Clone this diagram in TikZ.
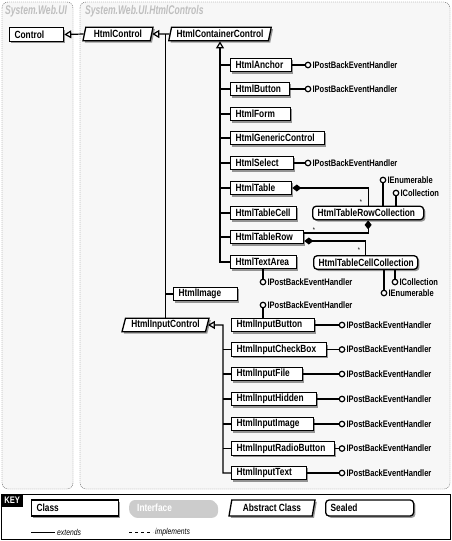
\documentclass[tikz,border=0pt]{standalone}
\usepackage{fontspec}
\setmainfont{Liberation Sans}[FakeStretch=0.8]
\newfontfamily\titulofont{Liberation Sans}[FakeStretch=0.68]
\usetikzlibrary{arrows.meta,shapes.geometric,shadows,positioning}
\tikzset{
  base/.style={draw,line width=1.3pt,fill=white,inner xsep=5pt,inner ysep=0pt,
    minimum height=13.5pt,font=\fontsize{10.4}{11}\selectfont\bfseries,
    drop shadow={shadow xshift=1.8pt,shadow yshift=-1.8pt,fill=black,opacity=.4}},
  clase/.style={base,align=left,text width=#1},
  sellada/.style={clase=#1,rounded corners=3.5pt},
  abstracta/.style={base,trapezium,trapezium left angle=70,trapezium right angle=110,
    trapezium stretches body=true,minimum width=#1},
  interfaz/.style={fill=gray!40,text=white,rounded corners=6pt,inner xsep=8pt,
    align=left,text width=#1,minimum height=16pt,font=\fontsize{10.4}{11}\selectfont\bfseries,
    drop shadow={shadow xshift=1.8pt,shadow yshift=-1.8pt,fill=black,opacity=.2}},
  paquete/.style={draw=gray!60!black,dash pattern=on 1pt off 1pt,fill=gray!6,rounded corners=6pt},
  titulo/.style={anchor=west,text=gray!50,inner sep=0pt,font=\titulofont\fontsize{12.6}{13}\selectfont\bfseries\itshape},
  piru/.style={circle,draw,line width=1.2pt,fill=white,inner sep=0pt,minimum size=5.5pt},
  etiq/.style={inner sep=1pt,font=\fontsize{9.4}{10}\selectfont\bfseries},
  estrella/.style={inner sep=0pt,font=\fontsize{7}{8}\selectfont},
  leyenda/.style={inner sep=2pt,font=\fontsize{8.5}{9}\selectfont\itshape},
  linea/.style={line width=1.2pt},
  hereda/.style={linea,-{Triangle[open,length=7pt,width=8pt]}},
  agrega/.style={linea,{Diamond[length=9pt,width=7pt]}-}
}
\begin{document}
\begin{tikzpicture}[x=1pt,y=-1pt]
\useasboundingbox (0,0) rectangle (452,541);
% paquetes
\draw[paquete] (2,2) rectangle (73,489);
\draw[paquete] (80,2) rectangle (450,489);
\node[titulo] (t1) at (5,11) {System.Web.UI};
\node[titulo] (t2) at (85,11) {System.Web.UI.HtmlControls};
% clases base
\node[clase=44pt,anchor=west] (control) at (9,34.5) {Control};
\node[abstracta=70pt] (hc) at (118,34) {HtmlControl};
\node[abstracta=96pt] (hcc) at (220,34) {HtmlContainerControl};
\draw[hereda] (hc.west) -- (control.east);
\draw[hereda] (hcc.west) -- (hc.east);
% hijos de HtmlContainerControl
\node[clase=51pt,anchor=west] (anchor) at (230,65) {HtmlAnchor};
\node[clase=49pt,anchor=west] (button) at (230,89) {HtmlButton};
\node[clase=50pt,anchor=west] (form) at (230,114) {HtmlForm};
\node[clase=84pt,anchor=west] (generic) at (230,138) {HtmlGenericControl};
\node[clase=53pt,anchor=west] (select) at (230,163) {HtmlSelect};
\node[clase=51pt,anchor=west] (table) at (230,188) {HtmlTable};
\node[clase=56pt,anchor=west] (tcell) at (230,213) {HtmlTableCell};
\node[clase=63pt,anchor=west] (trow) at (230,237) {HtmlTableRow};
\node[clase=56pt,anchor=west] (tarea) at (230,262) {HtmlTextArea};
\draw[hereda] (tarea.west) -| (hcc.south);
\draw[linea] (anchor.west) -- (anchor.west -| hcc.south);
\draw[linea] (button.west) -- (button.west -| hcc.south);
\draw[linea] (form.west) -- (form.west -| hcc.south);
\draw[linea] (generic.west) -- (generic.west -| hcc.south);
\draw[linea] (select.west) -- (select.west -| hcc.south);
\draw[linea] (table.west) -- (table.west -| hcc.south);
\draw[linea] (tcell.west) -- (tcell.west -| hcc.south);
\draw[linea] (trow.west) -- (trow.west -| hcc.south);
% interfaces
\node[piru] (c1) at (308,65) {};
\node[etiq,right=0pt of c1] (i1) {IPostBackEventHandler};
\draw[linea] (anchor.east) -- (c1);
\node[piru] (c2) at (308,89) {};
\node[etiq,right=0pt of c2] (i2) {IPostBackEventHandler};
\draw[linea] (button.east) -- (c2);
\node[piru] (c3) at (308,163) {};
\node[etiq,right=0pt of c3] (i3) {IPostBackEventHandler};
\draw[linea] (select.east) -- (c3);
\node[piru] (c4) at (263,282) {};
\node[etiq,right=0pt of c4] (i4) {IPostBackEventHandler};
\draw[linea] (c4) -- (c4 |- tarea.south);
% colecciones
\node[sellada=101pt,anchor=west] (rcol) at (312,213) {HtmlTableRowCollection};
\node[sellada=94pt,anchor=west] (ccol) at (313,262.5) {HtmlTableCellCollection};
\draw[agrega] (table.east) -| (rcol.north);
\draw[agrega] (rcol.south) |- ([yshift=4pt]trow.east);
\draw[agrega] ([yshift=-4pt]trow.east) -| (ccol.north);
\node[estrella] (m1) at (361,202) {*};
\node[estrella] (m2) at (314,230) {*};
\node[estrella] (m3) at (359,250) {*};
\node[piru] (ce1) at (383,180) {};
\node[etiq,right=0pt of ce1] (ie1) {IEnumerable};
\draw[linea] (ce1) -- (ce1 |- rcol.north);
\node[piru] (cc1) at (396,193) {};
\node[etiq,right=0pt of cc1] (ic1) {ICollection};
\draw[linea] (cc1) -- (cc1 |- rcol.north);
\node[piru] (cc2) at (395,282) {};
\node[etiq,right=0pt of cc2] (ic2) {ICollection};
\draw[linea] (cc2) -- (cc2 |- ccol.south);
\node[piru] (ce2) at (384,293) {};
\node[etiq,right=0pt of ce2] (ie2) {IEnumerable};
\draw[linea] (ce2) -- (ce2 |- ccol.south);
% HtmlImage y HtmlInputControl
\node[clase=54pt,anchor=west] (himg) at (173,294) {HtmlImage};
\node[abstracta=87pt] (hic) at (165.5,325) {HtmlInputControl};
\draw[linea] (hic.north) -- (hic.north |- hc.east);
\draw[linea] (himg.west) -- (himg.west -| hic.north);
% hijos de HtmlInputControl
\node[clase=73pt,anchor=west] (ibut) at (231,325) {HtmlInputButton};
\node[clase=85pt,anchor=west] (ichk) at (231,349.5) {HtmlInputCheckBox};
\node[clase=61pt,anchor=west] (ifile) at (231,374) {HtmlInputFile};
\node[clase=75pt,anchor=west] (ihid) at (231,399) {HtmlInputHidden};
\node[clase=72pt,anchor=west] (iimg) at (231,424) {HtmlInputImage};
\node[clase=93pt,anchor=west] (irad) at (231,448.5) {HtmlInputRadioButton};
\node[clase=65pt,anchor=west] (itext) at (231,473) {HtmlInputText};
\coordinate (lomo) at (223,325);
\draw[hereda] (itext.west) -| (lomo) -- (hic.east);
\draw[linea] (ichk.west) -- (ichk.west -| lomo);
\draw[linea] (ifile.west) -- (ifile.west -| lomo);
\draw[linea] (ihid.west) -- (ihid.west -| lomo);
\draw[linea] (iimg.west) -- (iimg.west -| lomo);
\draw[linea] (irad.west) -- (irad.west -| lomo);
\node[piru] (cb) at (263,305) {};
\node[etiq,right=0pt of cb] (ib) {IPostBackEventHandler};
\draw[linea] (cb) -- (cb |- ibut.north);
\node[piru] (p1) at (342,325) {};
\node[etiq,right=0pt of p1] (j1) {IPostBackEventHandler};
\draw[linea] (ibut.east) -- (p1);
\node[piru] (p2) at (342,349.5) {};
\node[etiq,right=0pt of p2] (j2) {IPostBackEventHandler};
\draw[linea] (ichk.east) -- (p2);
\node[piru] (p3) at (342,374) {};
\node[etiq,right=0pt of p3] (j3) {IPostBackEventHandler};
\draw[linea] (ifile.east) -- (p3);
\node[piru] (p4) at (342,399) {};
\node[etiq,right=0pt of p4] (j4) {IPostBackEventHandler};
\draw[linea] (ihid.east) -- (p4);
\node[piru] (p5) at (342,424) {};
\node[etiq,right=0pt of p5] (j5) {IPostBackEventHandler};
\draw[linea] (iimg.east) -- (p5);
\node[piru] (p6) at (342,448.5) {};
\node[etiq,right=0pt of p6] (j6) {IPostBackEventHandler};
\draw[linea] (irad.east) -- (p6);
\node[piru] (p7) at (342,473) {};
\node[etiq,right=0pt of p7] (j7) {IPostBackEventHandler};
\draw[linea] (itext.east) -- (p7);
% leyenda
\draw[line width=.6pt] (1,494) rectangle (450,539);
\node[fill=black,text=white,anchor=north west,minimum width=22pt,minimum height=13pt,inner sep=0pt,
  font=\fontsize{9.5}{10}\selectfont\bfseries] (key) at (1,494) {KEY};
\node[clase=77pt,minimum height=16pt,anchor=west] (kc) at (31,508) {Class};
\node[interfaz=71pt,anchor=west] (ki) at (129,508) {Interface};
\node[abstracta=86pt,minimum height=16pt] (ka) at (272,508) {Abstract Class};
\node[sellada=78pt,minimum height=16pt,anchor=west] (ks) at (325,508) {Sealed};
\coordinate (e0) at (31,532);
\node[leyenda,anchor=west] (ext) at (55,532) {extends};
\draw[line width=.8pt] (e0) -- (ext.west);
\coordinate (i0) at (129,532);
\node[leyenda,anchor=west] (imp) at (153,532) {implements};
\draw[line width=.6pt,dash pattern=on 3pt off 3pt] (i0) -- (imp.west);
\end{tikzpicture}
\end{document}
